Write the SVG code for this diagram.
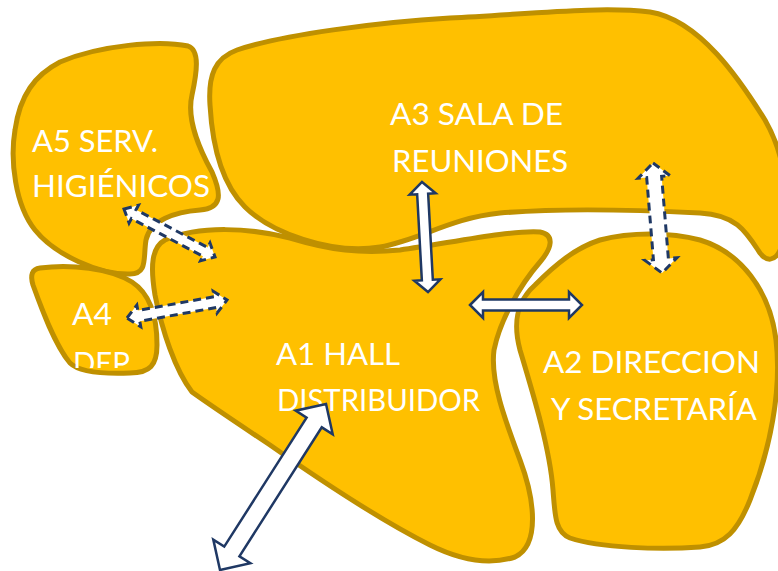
<svg xmlns="http://www.w3.org/2000/svg" width="778" height="571" viewBox="0 0 778 571">
<style>
.room{fill:#FFC000;stroke:#BF9000;stroke-width:5;stroke-linejoin:round}
.lbl{fill:#FFFFFF;font-family:Lato,"Open Sans","Liberation Sans",sans-serif;font-size:31px}
.arr{fill:#FFFFFF;stroke:#1F3864;stroke-width:2.5;stroke-linejoin:miter}
.dash{fill:#FFFFFF;stroke:#1F3864;stroke-width:3;stroke-dasharray:8 5;stroke-linejoin:miter}
</style>
<defs>
<clipPath id="clipA4"><rect x="0" y="250" width="200" height="118"/></clipPath>
</defs>
<rect width="778" height="571" fill="#FFFFFF"/>
<g id="A3">
<path class="room" d="M 237,50 C 280,35 380,22 450,18 C 530,14 600,6 650,12 C 700,20 740,80 765,120 C 785,155 792,200 782,245 C 776,264 765,262 758,250 C 745,230 735,215 700,213 C 640,210 560,208 500,213 C 450,218 420,240 380,247 C 330,255 270,232 245,207 C 220,182 212,140 210,105 C 208,75 215,58 237,50 Z"/>
<text class="lbl" x="390" y="125" textLength="173" lengthAdjust="spacingAndGlyphs">A3 SALA DE</text>
<text class="lbl" x="392" y="172" textLength="176" lengthAdjust="spacingAndGlyphs">REUNIONES</text>
</g>
<g id="A5">
<path class="room" d="M 60,62 C 100,45 160,40 188,46 C 200,50 197,72 192,95 C 186,120 200,150 212,172 C 222,195 222,208 200,210 C 175,212 150,220 146,240 C 143,258 148,274 130,274 C 100,275 55,255 35,230 C 15,205 10,160 15,130 C 20,95 35,75 60,62 Z"/>
<text class="lbl" x="32" y="152" textLength="126" lengthAdjust="spacingAndGlyphs">A5 SERV.</text>
<text class="lbl" x="32" y="197" textLength="178" lengthAdjust="spacingAndGlyphs">HIGIÉNICOS</text>
</g>
<g id="A4">
<path class="room" d="M 40,268 C 70,264 110,268 132,282 C 152,295 157,320 157,345 C 157,365 150,373 130,373 C 105,374 80,373 70,363 C 55,345 42,310 33,285 C 30,275 32,269 40,268 Z"/>
<text class="lbl" x="72" y="325" textLength="40" lengthAdjust="spacingAndGlyphs">A4</text>
<text class="lbl" x="73" y="374" textLength="57" lengthAdjust="spacingAndGlyphs" clip-path="url(#clipA4)">DEP</text>
</g>
<g id="A1">
<path class="room" d="M 165,240 C 200,225 250,228 290,238 C 330,250 360,254 400,250 C 450,243 510,230 540,232 C 555,235 552,248 540,262 C 520,285 500,320 494,350 C 490,380 505,420 520,460 C 535,500 540,545 515,557 C 490,565 460,560 430,545 C 380,520 320,480 270,445 C 240,425 210,405 192,392 C 175,370 162,330 155,295 C 150,265 152,247 165,240 Z"/>
<text class="lbl" x="276" y="365" textLength="124" lengthAdjust="spacingAndGlyphs">A1 HALL</text>
<text class="lbl" x="277" y="411" textLength="203" lengthAdjust="spacingAndGlyphs">DISTRIBUIDOR</text>
</g>
<g id="A2">
<path class="room" d="M 600,240 C 630,232 670,232 700,240 C 740,252 770,290 776,340 C 782,390 770,450 750,500 C 738,530 725,545 700,547 C 660,550 600,548 570,538 C 555,532 555,515 553,490 C 550,450 535,400 520,350 C 512,320 518,300 535,285 C 555,265 575,248 600,240 Z"/>
<text class="lbl" x="543" y="373" textLength="217" lengthAdjust="spacingAndGlyphs">A2 DIRECCION</text>
<text class="lbl" x="551" y="420" textLength="206" lengthAdjust="spacingAndGlyphs">Y SECRETARÍA</text>
</g>
<g id="connectors">
<polygon class="arr" transform="translate(422,182) rotate(86.88)" points="0,0 12,-13 12,-5.5 98.2,-5.5 98.2,-13 110.2,0 98.2,13 98.2,5.5 12,5.5 12,13"/>
<polygon class="arr" transform="translate(470,305)" points="0,0 13,-13 13,-5.5 99,-5.5 99,-13 112,0 99,13 99,5.5 13,5.5 13,13"/>
<polygon class="arr" transform="translate(220,570) rotate(-57.44)" points="0,0 22,-22 22,-9 175,-9 175,-22 197,0 175,22 175,9 22,9 22,22"/>
<polygon class="dash" transform="translate(124,209) rotate(27.8)" points="0,0 11,-10 11,-5 91.9,-5 91.9,-10 102.9,0 91.9,10 91.9,5 11,5 11,10"/>
<polygon class="dash" transform="translate(127,318) rotate(-10.2)" points="0,0 12,-11 12,-5.5 89.6,-5.5 89.6,-11 101.6,0 89.6,11 89.6,5.5 12,5.5 12,11"/>
<polygon class="dash" transform="translate(653,163) rotate(85.3)" points="0,0 14,-16 14,-7.5 96.4,-7.5 96.4,-16 110.4,0 96.4,16 96.4,7.5 14,7.5 14,16"/>
</g>
</svg>
